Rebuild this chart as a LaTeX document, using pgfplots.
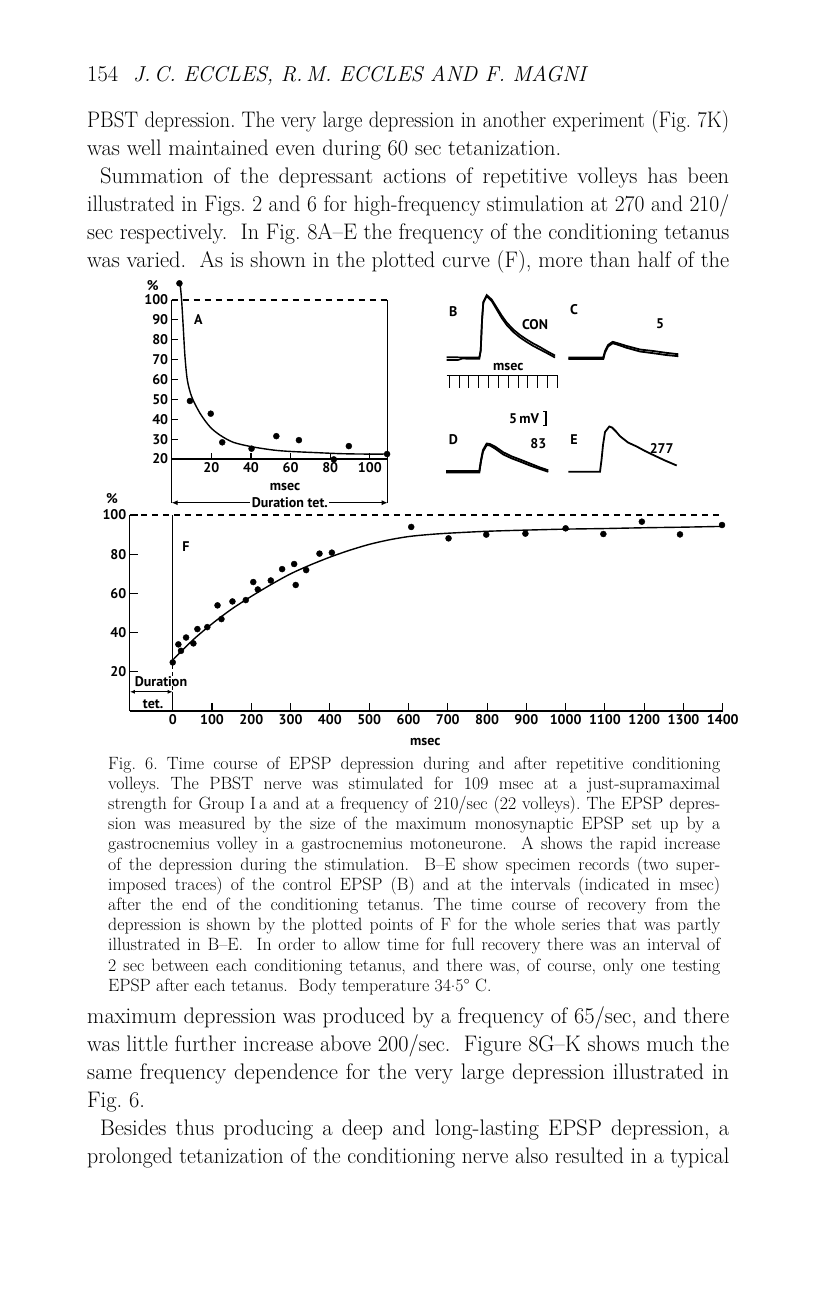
\documentclass[border=0pt]{standalone}
\usepackage{fontspec}
\setsansfont{PT Sans}
\usepackage{graphicx}
\usepackage{pgfplots}
\pgfplotsset{compat=1.18}
\usetikzlibrary{arrows.meta}

\newcommand{\bodyfont}{\fontsize{22.5}{28}\selectfont\addfontfeatures{FakeBold=1.2}\frenchspacing}
\newcommand{\capfont}{\fontsize{17.8}{20}\selectfont\addfontfeatures{FakeBold=1.2}\frenchspacing}
\newcommand{\lab}{\sffamily\bfseries\fontsize{14}{14}\selectfont}
\newlength\tmpw
\newcommand{\fitline}[2]{\settowidth{\tmpw}{#2}\ifdim\tmpw>#1\relax\resizebox{#1}{\height}{#2}\else\makebox[#1][s]{#2}\fi}
% justified line: x, baseline y, width, font, text
\newcommand{\jl}[5]{\node[anchor=base west,inner sep=0pt] at (#1pt,-#2pt) {#4\fitline{#3pt}{#5}};}
% natural line: x, baseline y, font, text
\newcommand{\nl}[4]{\node[anchor=base west,inner sep=0pt] at (#1pt,-#2pt) {#3#4};}
\newcommand{\cdotnum}{\raisebox{0.45ex}{.}}

\pgfplotsset{
  figax/.style={
    scale only axis, clip=false, enlargelimits=false,
    axis x line*=bottom, axis y line*=left,
    axis line style={-, line width=1.1pt, black},
    tick align=inside,
    every tick/.style={black, line width=1.1pt},
    ticklabel style={font=\lab},
    /pgf/number format/assume math mode=true,
    /pgf/number format/1000 sep={},
  }
}

\begin{document}
\begin{tikzpicture}
\path[use as bounding box, fill=white] (0pt,0pt) rectangle (816pt,-1296pt);

% ---------- header and body text ----------
\node[anchor=base west,inner sep=0pt] at (87pt,-81pt) {\bodyfont 154};
\node[anchor=base west,inner sep=0pt] at (133pt,-81pt) {\fontsize{21.5}{28}\selectfont\itshape\addfontfeatures{FakeBold=1.2}J.\,C.\ ECCLES, R.\,M.\ ECCLES AND F.\ MAGNI};

\jl{87}{127}{642}{\bodyfont}{PBST depression. The very large depression in another experiment (Fig.\ 7K)}
\nl{87}{155}{\bodyfont}{was well maintained even during 60 sec tetanization.}
\jl{100}{183}{629}{\bodyfont}{Summation of the depressant actions of repetitive volleys has been}
\jl{87}{211}{642}{\bodyfont}{illustrated in Figs.\ 2 and 6 for high-frequency stimulation at 270 and 210/}
\jl{87}{239}{642}{\bodyfont}{sec respectively.\ \ In Fig.\ 8A--E the frequency of the conditioning tetanus}
\jl{87}{267}{642}{\bodyfont}{was varied.\ \ As is shown in the plotted curve (F), more than half of the}

% ---------- caption ----------
\jl{108}{769}{612}{\capfont}{Fig.\ 6. Time course of EPSP depression during and after repetitive conditioning}
\jl{108}{789.2}{612}{\capfont}{volleys. The PBST nerve was stimulated for 109 msec at a just-supramaximal}
\jl{108}{809.4}{612}{\capfont}{strength for Group I\,a and at a frequency of 210/sec (22 volleys). The EPSP depres-}
\jl{108}{829.6}{612}{\capfont}{sion was measured by the size of the maximum monosynaptic EPSP set up by a}
\jl{108}{849.8}{612}{\capfont}{gastrocnemius volley in a gastrocnemius motoneurone.\ \ A shows the rapid increase}
\jl{108}{870}{612}{\capfont}{of the depression during the stimulation.\ \ B--E show specimen records (two super-}
\jl{108}{890.2}{612}{\capfont}{imposed traces) of the control EPSP (B) and at the intervals (indicated in msec)}
\jl{108}{910.4}{612}{\capfont}{after the end of the conditioning tetanus. The time course of recovery from the}
\jl{108}{930.6}{612}{\capfont}{depression is shown by the plotted points of F for the whole series that was partly}
\jl{108}{950.8}{612}{\capfont}{illustrated in B--E.\ \ In order to allow time for full recovery there was an interval of}
\jl{108}{971}{612}{\capfont}{2 sec between each conditioning tetanus, and there was, of course, only one testing}
\nl{108}{991.2}{\capfont}{EPSP after each tetanus.\ \ Body temperature 34\cdotnum5° C.}

% ---------- bottom text ----------
\jl{87}{1023}{642}{\bodyfont}{maximum depression was produced by a frequency of 65/sec, and there}
\jl{87}{1051}{642}{\bodyfont}{was little further increase above 200/sec.\ \ Figure 8G--K shows much the}
\jl{87}{1079}{642}{\bodyfont}{same frequency dependence for the very large depression illustrated in}
\nl{87}{1107}{\bodyfont}{Fig.\ 6.}
\jl{100}{1135}{629}{\bodyfont}{Besides thus producing a deep and long-lasting EPSP depression, a}
\jl{87}{1163}{642}{\bodyfont}{prolonged tetanization of the conditioning nerve also resulted in a typical}

% ---------- panel A ----------
\begin{axis}[figax,
  at={(171.7pt,-459pt)}, anchor=south west,
  width=216pt, height=159pt,
  xmin=0, xmax=109, ymin=20, ymax=100,
  xtick={20,40,60,80,100}, ytick={20,30,...,100},
  major tick length=6pt,
]
\addplot[smooth, line width=1.4pt, black, no marks] coordinates {
 (4.3,107.5) (5,100) (5.9,85) (6.7,71.5) (7.9,59.7) (10.1,51.3) (14.3,43)
 (19.3,36.2) (24.4,32) (31.1,28.4) (40.3,26.2) (51.3,24.5) (60,23.8)
 (73.1,23.2) (84.9,22.7) (96,22.5) (108.7,22.5)};
\addplot[only marks, mark=*, mark size=3pt, black] coordinates {
 (3.9,108.4) (9.2,49.2) (19.7,42.8) (25.5,28.4) (40.3,25.2) (52.8,31.5)
 (64.2,29.5) (81.8,19.8) (89.4,26.5) (108.7,22.5)};
\draw[line width=1.1pt] (axis cs:0,20) -- (axis cs:0,-2);
\draw[line width=1.1pt, dash pattern=on 6pt off 5pt] (axis cs:0,100) -- (axis cs:109,100);
\draw[line width=1.1pt] (axis cs:109,100) -- (axis cs:109,-2);
\draw[line width=1pt, {Latex[length=6pt,width=5pt]}-{Latex[length=6pt,width=5pt]}] (axis cs:0,-2) -- (axis cs:109,-2);
\node[fill=white, inner sep=1.5pt, font=\lab] at (axis cs:59.6,-2) {Duration tet.};
\node[font=\lab] at (axis cs:57.2,5.8) {msec};
\node[font=\lab] at (axis cs:-9.6,107) {\%};
\node[font=\lab] at (axis cs:13.4,90.2) {A};
\end{axis}

% ---------- panel F ----------
\begin{axis}[figax,
  at={(129.9pt,-711pt)}, anchor=south west,
  width=592.9pt, height=196pt,
  xmin=-109, xmax=1400, ymin=0, ymax=100,
  xtick={0,100,...,1400}, ytick={20,40,60,80,100},
  major tick length=8pt,
]
\addplot[smooth, line width=1.4pt, black, no marks] coordinates {
 (0,26) (50,36) (100,44.5) (150,52) (200,58.5) (250,64.5) (300,70)
 (350,74.5) (400,78.5) (450,82) (500,85) (550,87.3) (600,89) (650,90)
 (700,90.7) (800,91.7) (900,92.3) (1000,92.8) (1100,93.1) (1200,93.5)
 (1300,93.8) (1400,94.2)};
\addplot[only marks, mark=*, mark size=3pt, black] coordinates {
 (0,24.8) (14.4,34) (21,30.7) (34,37.5) (52.6,34.5) (62.8,41.8) (88,42.8)
 (114,53.9) (124,46.9) (152,55.9) (186,56.6) (205,65.8) (216.5,62)
 (249.6,66.6) (278.4,72.4) (309,75) (313,64.3) (339.6,71.9) (373.5,80.3)
 (405,80.8) (607,93.9) (702,88.1) (798,90) (897.6,90.5) (1000,93.2)
 (1096,90.3) (1194,96.6) (1291,90.1) (1398,94.9)};
\draw[line width=1.1pt, dash pattern=on 6pt off 5pt] (axis cs:-109,100) -- (axis cs:1400,100);
\draw[line width=1.1pt] (axis cs:0,100) -- (axis cs:0,27);
\draw[line width=1.1pt, dash pattern=on 4pt off 3pt] (axis cs:0,27) -- (axis cs:0,9.8);
\draw[line width=1.1pt] (axis cs:0,9.8) -- (axis cs:0,0);
\draw[line width=1pt, {Latex[length=5pt,width=4pt]}-{Latex[length=5pt,width=4pt]}] (axis cs:-109,9.8) -- (axis cs:0,9.8);
\node[font=\lab] at (axis cs:-29.8,15) {Duration};
\node[font=\lab] at (axis cs:-50,3.6) {tet.};
\node[font=\lab] at (axis cs:33.9,83.9) {F};
\node[font=\lab] at (axis cs:-154.5,108.3) {\%};
\node[font=\lab] at (axis cs:642.6,-15.7) {msec};
\end{axis}

% ---------- specimen records B-E ----------
\begin{axis}[
  at={(440pt,-280pt)}, anchor=north west,
  scale only axis, width=280pt, height=200pt,
  xmin=440, xmax=720, ymin=280, ymax=480, y dir=reverse,
  hide axis, clip=false,
]
% B
\addplot[line width=1.7pt, black] coordinates {
 (446.7,357.2) (479.3,357.6) (480.7,350) (482,320) (483.3,302) (486.7,295)
 (491.7,299.5) (496.7,307.5) (501.7,315.5) (506.7,322.5) (513.3,329.5)
 (520,335) (526.7,339.5) (533.3,343.5) (540,347) (546.7,351) (555,355.5)};
\addplot[line width=1.7pt, black] coordinates {
 (446.7,360) (458,360) (462,358.6) (479.3,358.8) (480.7,351) (482,321) (483.3,303) (486.7,296)
 (491.7,301) (496.7,309.5) (501.7,318) (506.7,325) (513.3,332)
 (520,337.5) (526.7,342) (533.3,346) (540,349.5) (546.7,353) (555,357.5)};
% C
\addplot[line width=1.8pt, black] coordinates {
 (568.3,357.6) (603.3,357.6) (605,351) (608,345) (612.7,341.8) (617,343)
 (626.7,346) (640,349.5) (653.3,351) (666,352.8) (678.3,354.2)};
\addplot[line width=1.8pt, black] coordinates {
 (568.3,359) (603.3,359) (605,352.5) (608,346.5) (612.7,343.2) (617,344.5)
 (626.7,347.8) (640,351.5) (653.3,353.2) (666,355) (678.3,356.2)};
% D
\addplot[line width=1.8pt, black] coordinates {
 (446,471) (479.3,471) (481,460) (483,450) (486.7,443.5) (490,444)
 (495,446.5) (503.3,452.3) (512,456.5) (520,459.5) (530,463.5) (540,467.5) (548.3,470.3)};
\addplot[line width=1.8pt, black] coordinates {
 (446,472.5) (479.3,472.5) (481,461.5) (483,451.5) (486.7,445) (490,445.5)
 (495,448.5) (503.3,454.5) (512,458.5) (520,461.5) (530,465.5) (540,469) (548.3,471.8)};
% E
\addplot[line width=1.8pt, black] coordinates {
 (568.3,471.7) (600,471.7) (601.5,460) (603,445) (605,432) (609.3,426.5)
 (612,427.5) (616,431.5) (620,436.2) (628,442.5) (636.7,446.5) (645,451)
 (653.3,455) (665,460.5) (676.7,465.5)};
% time scale
\draw[line width=1pt] (axis cs:446.7,375) -- (axis cs:558.3,375);
\draw[line width=0.9pt]
 (axis cs:449.3,375) -- (axis cs:449.3,388) (axis cs:459.1,375) -- (axis cs:459.1,388)
 (axis cs:468.9,375) -- (axis cs:468.9,388) (axis cs:478.8,375) -- (axis cs:478.8,388)
 (axis cs:488.6,375) -- (axis cs:488.6,388) (axis cs:498.4,375) -- (axis cs:498.4,388)
 (axis cs:508.2,375) -- (axis cs:508.2,388) (axis cs:518.0,375) -- (axis cs:518.0,388)
 (axis cs:527.9,375) -- (axis cs:527.9,388) (axis cs:537.7,375) -- (axis cs:537.7,388)
 (axis cs:547.5,375) -- (axis cs:547.5,388) (axis cs:557.3,375) -- (axis cs:557.3,388);
\draw[line width=1.1pt] (axis cs:543,411.5) -- (axis cs:546,411.5) -- (axis cs:546,425.5) -- (axis cs:543,425.5);
\node[font=\lab] at (axis cs:453.3,311.7) {B};
\node[font=\lab] at (axis cs:535,325) {CON};
\node[font=\lab] at (axis cs:508.3,367.3) {msec};
\node[font=\lab] at (axis cs:574,310) {C};
\node[font=\lab] at (axis cs:660,324) {5};
\node[font=\lab, anchor=east] at (axis cs:542.5,418.5) {5\,mV};
\node[font=\lab] at (axis cs:453.3,440) {D};
\node[font=\lab] at (axis cs:538.3,443.3) {83};
\node[font=\lab] at (axis cs:574,440) {E};
\node[font=\lab] at (axis cs:661.7,448.3) {277};
\end{axis}
\end{tikzpicture}
\end{document}
